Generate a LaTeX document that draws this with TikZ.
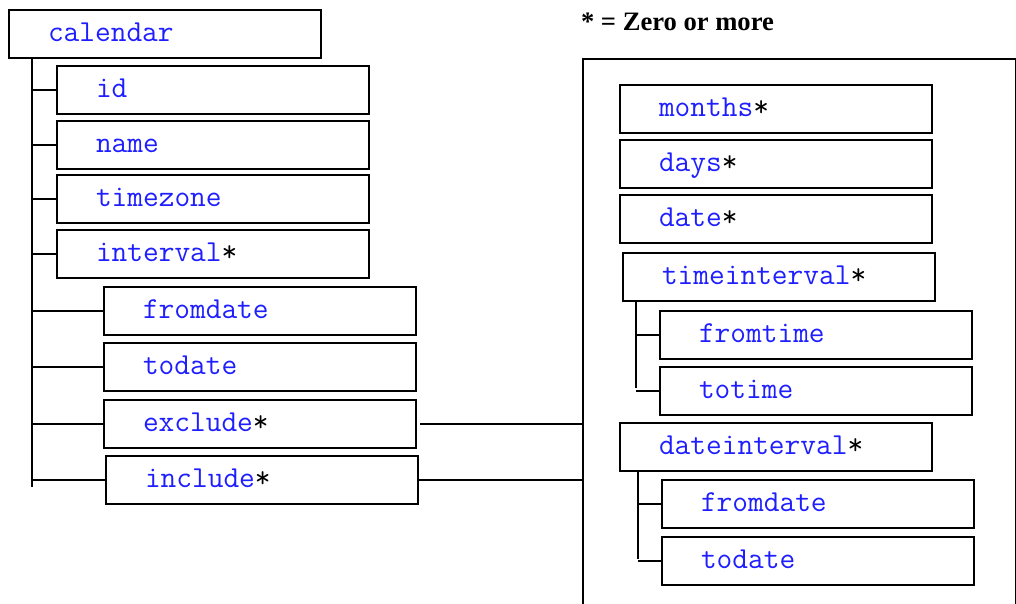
\documentclass[tikz,border=0pt]{standalone}
\usepackage{fontspec}
\setmainfont{Liberation Serif}
\definecolor{elemblue}{RGB}{30,30,255}
\begin{document}
\begin{tikzpicture}[x=1pt,y=-1pt,
  line width=2pt,
  elem/.style={draw, anchor=north west, rectangle,
    minimum height=48pt, inner xsep=39pt, inner ysep=0pt,
    text width=234pt, text height=18pt, text depth=3pt,
    font=\ttfamily\fontsize{30.5}{36}\selectfont, text=elemblue},
  link/.style={line width=2pt}]
\useasboundingbox (0,0) rectangle (1016,603);

% legend
\node[anchor=base west, inner sep=0pt, font=\bfseries\fontsize{26.6}{30}\selectfont]
  (legend) at (580,30) {* = Zero or more};

% calendar tree
\node[elem] (cal)  at (8,9)    {calendar};
\node[elem] (id)   at (56,65)  {id};
\node[elem] (nm)   at (56,120) {name};
\node[elem] (tz)   at (56,174) {timezone};
\node[elem] (ival) at (56,229) {interval\textcolor{black}{*}};
\node[elem] (fd)   at (103,286) {fromdate};
\node[elem] (td)   at (103,342) {todate};
\node[elem] (exc)  at (103,399) {exclude\textcolor{black}{*}};
\node[elem] (inc)  at (105,455) {include\textcolor{black}{*}};

\coordinate (trunkEnd) at (32,487);
\draw[link] (trunkEnd |- cal.south) -- (trunkEnd);
\foreach \n in {id,nm,tz,ival,fd,td,exc,inc}
  \draw[link] (\n.west -| trunkEnd) -- (\n.west);

% shared content box
\node[draw, anchor=north west, minimum width=433pt, minimum height=570pt,
  inner sep=0pt] (grp) at (582,58) {};

\draw[link, shorten <=3pt] (exc.east) -- (exc.east -| grp.west);
\draw[link] (inc.east) -- (inc.east -| grp.west);

\node[elem] (mon)  at (619,84)  {months\textcolor{black}{*}};
\node[elem] (day)  at (619,139) {days\textcolor{black}{*}};
\node[elem] (dat)  at (619,194) {date\textcolor{black}{*}};
\node[elem] (tiv)  at (622,252) {timeinterval\textcolor{black}{*}};
\node[elem] (ftm)  at (659,310) {fromtime};
\node[elem] (ttm)  at (659,366) {totime};
\node[elem] (div)  at (619,422) {dateinterval\textcolor{black}{*}};
\node[elem] (fdt)  at (661,479) {fromdate};
\node[elem] (tdt)  at (661,536) {todate};

\coordinate (tivEnd) at (636,388);
\draw[link] (tivEnd |- tiv.south) -- (tivEnd);
\draw[link] (ftm.west -| tivEnd) -- (ftm.west);
\draw[link] (ttm.west -| tivEnd) -- (ttm.west);

\coordinate (divEnd) at (638,559);
\draw[link] (divEnd |- div.south) -- (divEnd);
\draw[link] (fdt.west -| divEnd) -- (fdt.west);
\draw[link] (tdt.west -| divEnd) -- (tdt.west);
\end{tikzpicture}
\end{document}
